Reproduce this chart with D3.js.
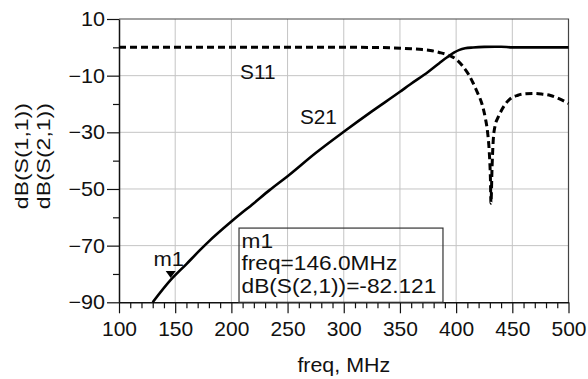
<!DOCTYPE html>
<html>
<head>
<meta charset="utf-8">
<script src="https://cdn.jsdelivr.net/npm/d3@7"></script>
<style>
  html, body { margin: 0; padding: 0; background: #fff; }
  svg text { font-family: "Liberation Sans", Arial, sans-serif; fill: #111; }
</style>
</head>
<body>
<svg id="chart" width="588" height="379"></svg>
<script>
// Frequency sweep (MHz) and responses (dB)
const s21Freq = [130, 146, 160, 172, 180, 200, 220, 234, 250, 275, 300, 325, 350, 359, 375, 385, 392, 398, 403, 408, 415, 425, 440, 450, 475, 500];
const s21Db   = [-90, -82.121, -76.5, -71.6, -68.5, -61.5, -55, -50.4, -45.5, -37.3, -29.8, -22.6, -15.7, -13.1, -8.7, -5.6, -3.5, -1.9, -0.9, -0.35, -0.05, 0.15, 0.2, 0, 0, 0];

const s11Freq = [100, 150, 200, 250, 300, 330, 345, 360, 370, 377, 385, 394, 400, 406, 411, 415, 419, 423, 426, 428, 429.5, 430.5, 431, 432, 433, 434.5, 437, 439, 443, 448, 455, 462, 469, 476, 484, 492, 500];
const s11Db   = [0, 0, 0, 0, 0, -0.05, -0.2, -0.5, -0.8, -1.1, -1.8, -2.9, -4.2, -6.7, -9.5, -12.5, -16, -20, -25, -30, -37, -46, -55, -42, -33, -28, -25, -23.3, -20.5, -18.2, -16.9, -16.4, -16.3, -16.5, -17, -18.2, -19.8];

const xMajorTicks = [100, 150, 200, 250, 300, 350, 400, 450, 500];
const xMinorTicks = d3.range(100, 501, 10);
const yMajorTicks = [10, -10, -30, -50, -70, -90];
const yMinorTicks = [0, -20, -40, -60, -80];

const traceLabels = [
  { text: "S11", freq: 207.7, db: -11.2 },
  { text: "S21", freq: 261, db: -27 }
];

const marker = { name: "m1", freq: 146.0, db: -82.121 };
const markerLines = ["m1", "freq=146.0MHz", "dB(S(2,1))=-82.121"];
const markerBox = { f0: 206.8, f1: 388.3, dbTop: -63.8, dbBottom: -90 };

const yTitleLines = ["dB(S(1,1))", "dB(S(2,1))"];
const xTitle = "freq, MHz";

const svg = d3.select("#chart");
const x = d3.scaleLinear().domain([100, 500]).range([119, 568.5]);
const y = d3.scaleLinear().domain([-90, 10]).range([302.3, 19]);

const x0 = x.range()[0], x1 = x.range()[1];
const yTop = y.range()[1], yBot = y.range()[0];

// grid
const grid = svg.append("g").attr("stroke", "#c4c4c4").attr("stroke-width", 1);
grid.selectAll(".gx").data(xMajorTicks.slice(1, -1)).join("line")
  .attr("x1", d => x(d)).attr("x2", d => x(d)).attr("y1", yTop).attr("y2", yBot);
grid.selectAll(".gy").data(yMajorTicks.slice(1, -1)).join("line")
  .attr("x1", x0).attr("x2", x1).attr("y1", d => y(d)).attr("y2", d => y(d));

// frame: top and right
svg.append("path")
  .attr("d", `M${x0},${yTop}H${x1}V${yBot}`)
  .attr("fill", "none").attr("stroke", "#444").attr("stroke-width", 1.2);

// bottom axis
const xAxisMajor = d3.axisBottom(x).tickValues(xMajorTicks).tickSize(11).tickSizeOuter(0).tickPadding(9);
const gx = svg.append("g").attr("transform", `translate(0,${yBot})`).call(xAxisMajor);
gx.select(".domain").attr("stroke", "#111").attr("stroke-width", 1.5);
gx.selectAll(".tick line").attr("stroke", "#111").attr("stroke-width", 1.2);
gx.selectAll(".tick text").attr("font-size", 20).attr("font-family", "Liberation Sans, Arial, sans-serif").attr("fill", "#111")
  .attr("transform", "scale(1.05,1)");
svg.append("g").attr("transform", `translate(0,${yBot})`)
  .call(d3.axisBottom(x).tickValues(xMinorTicks.filter(v => v % 50 !== 0)).tickSize(6).tickFormat(""))
  .call(g => g.select(".domain").remove())
  .selectAll(".tick line").attr("stroke", "#111").attr("stroke-width", 1.2);

// left axis
const yAxisMajor = d3.axisLeft(y).tickValues(yMajorTicks).tickSize(12).tickSizeOuter(0).tickPadding(2);
const gy = svg.append("g").attr("transform", `translate(${x0},0)`).call(yAxisMajor);
gy.select(".domain").attr("stroke", "#111").attr("stroke-width", 1.5);
gy.selectAll(".tick line").attr("stroke", "#111").attr("stroke-width", 1.2);
gy.selectAll(".tick text").attr("font-size", 20).attr("font-family", "Liberation Sans, Arial, sans-serif").attr("fill", "#111")
  .attr("x", 0).attr("transform", "translate(-14,0) scale(1.08,1)");
svg.append("g").attr("transform", `translate(${x0},0)`)
  .call(d3.axisLeft(y).tickValues(yMinorTicks).tickSize(6).tickFormat(""))
  .call(g => g.select(".domain").remove())
  .selectAll(".tick line").attr("stroke", "#111").attr("stroke-width", 1.2);

// traces
const line = d3.line().x(d => x(d[0])).y(d => y(d[1])).curve(d3.curveMonotoneX);
svg.append("path")
  .datum(d3.zip(s11Freq, s11Db))
  .attr("d", line)
  .attr("fill", "none").attr("stroke", "#000").attr("stroke-width", 3)
  .attr("stroke-dasharray", "7,4");
svg.append("path")
  .datum(d3.zip(s21Freq, s21Db))
  .attr("d", line)
  .attr("fill", "none").attr("stroke", "#000").attr("stroke-width", 2.6);

// trace labels
svg.selectAll(".tl").data(traceLabels).join("text")
  .attr("transform", d => `translate(${x(d.freq)},${y(d.db)}) scale(1.04,1)`)
  .attr("font-size", 20).text(d => d.text);

// marker
const mx = x(marker.freq), my = y(marker.db);
svg.append("path")
  .attr("d", `M${mx - 5},${my - 9}H${mx + 5}L${mx},${my - 2}Z`)
  .attr("fill", "#000");
svg.append("text")
  .attr("transform", `translate(${mx - 2},${my - 14}) scale(1.1,1)`)
  .attr("text-anchor", "middle").attr("font-size", 20).text(marker.name);

// marker readout box
const bx0 = x(markerBox.f0), bx1 = x(markerBox.f1);
const by0 = y(markerBox.dbTop), by1 = y(markerBox.dbBottom);
svg.append("rect")
  .attr("x", bx0).attr("y", by0).attr("width", bx1 - bx0).attr("height", by1 - by0)
  .attr("fill", "none").attr("stroke", "#333").attr("stroke-width", 1.2);
svg.selectAll(".ml").data(markerLines).join("text")
  .attr("transform", (d, i) => `translate(${bx0 + 2.5},${by0 + 19.5 + i * 22.7}) scale(1.135,1)`)
  .attr("font-size", 20).text(d => d);

// axis titles
const yMid = (yTop + yBot) / 2;
svg.selectAll(".yt").data(yTitleLines).join("text")
  .attr("transform", (d, i) => `translate(${28 + i * 22},${yMid - 4.5}) rotate(-90)`)
  .attr("text-anchor", "middle").attr("font-size", 18.5)
  .attr("textLength", 106).attr("lengthAdjust", "spacingAndGlyphs")
  .text(d => d);
svg.append("text")
  .attr("transform", `translate(${(x0 + x1) / 2},372) scale(1.07,1)`)
  .attr("text-anchor", "middle").attr("font-size", 20).text(xTitle);
</script>
</body>
</html>
